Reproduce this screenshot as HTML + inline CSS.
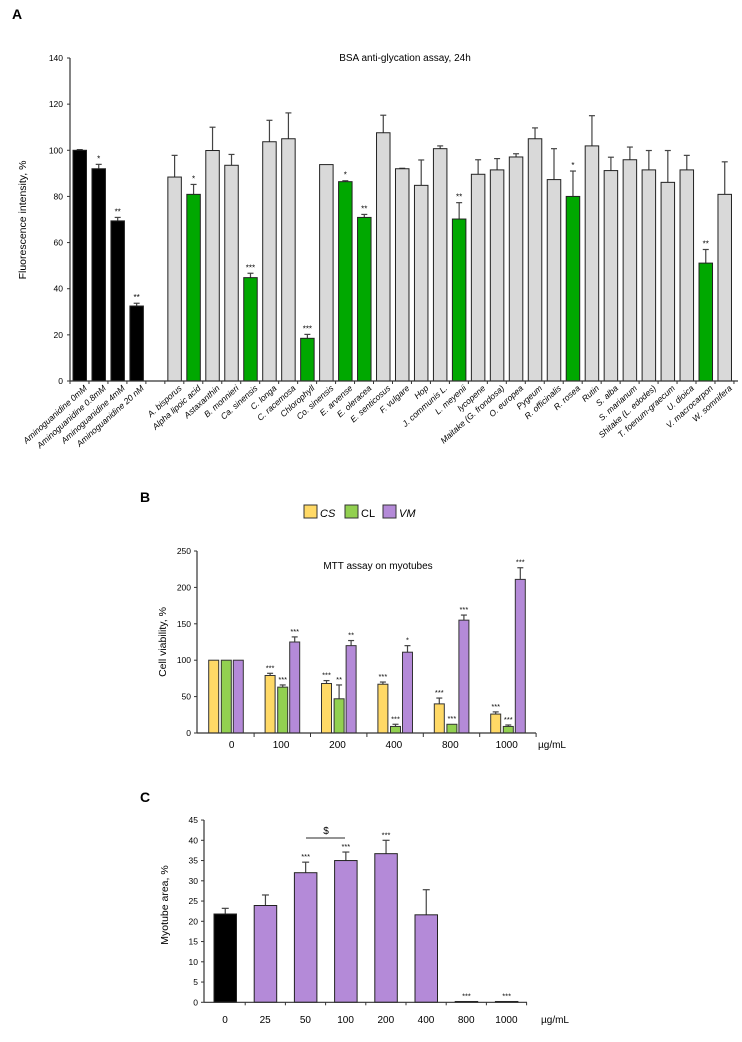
<!DOCTYPE html>
<html><head><meta charset="utf-8"><style>
body{margin:0;background:#fff;font-family:"Liberation Sans",sans-serif}
svg text{font-family:"Liberation Sans",sans-serif}
</style></head><body>
<svg id="s" width="742" height="1037" viewBox="0 0 742 1037" xmlns="http://www.w3.org/2000/svg">
<text x="12" y="19" font-size="14" font-weight="bold">A</text>
<text x="405" y="61" font-size="10" text-anchor="middle">BSA anti-glycation assay, 24h</text>
<text transform="translate(26,220) rotate(-90)" font-size="10.5" text-anchor="middle">Fluorescence intensity, %</text>
<text x="140" y="502" font-size="14" font-weight="bold">B</text>
<text x="378" y="569" font-size="10" text-anchor="middle">MTT assay on myotubes</text>
<text transform="translate(166,642) rotate(-90)" font-size="10.5" text-anchor="middle">Cell viability, %</text>
<text x="140" y="802" font-size="14" font-weight="bold">C</text>
<text transform="translate(168,905) rotate(-90)" font-size="10.5" text-anchor="middle">Myotube area, %</text>
<g>
<rect x="304" y="505" width="13" height="13" fill="#ffd966" stroke="#333"/>
<text x="320" y="517" font-size="11" font-style="italic">CS</text>
<rect x="345" y="505" width="13" height="13" fill="#92d050" stroke="#333"/>
<text x="361" y="517" font-size="11">CL</text>
<rect x="383" y="505" width="13" height="13" fill="#b48ad8" stroke="#333"/>
<text x="399" y="517" font-size="11" font-style="italic">VM</text>
</g>
</svg>
<script>
// Panel A data
const aCats=["Aminoguanidine 0mM","Aminoguanidine 0.8mM","Aminoguanidine 4mM","Aminoguanidine 20 nM","","A. bisporus","Alpha lipoic acid","Astaxanthin","B. monnieri","Ca. sinensis","C. longa","C. racemosa","Chlorophyll","Co. sinensis","E. arvense","E. oleracea","E. senticosus","F. vulgare","Hop","J. communis L.","L. meyenii","lycopene","Maitake (G. frondosa)","O. europea","Pygeum","R. officinalis","R. rosea","Rutin","S. alba","S. marianum","Shitake (L. edodes)","T. foenum-graecum","U. dioica","V. macrocarpon","W. somnifera"];
const aVals=[100,92,69.4,32.5,null,88.4,80.9,99.9,93.5,44.8,103.7,105,18.5,93.8,86.4,70.9,107.6,92,84.8,100.7,70.2,89.6,91.5,97.1,105,87.3,80,101.9,91.2,95.9,91.5,86.1,91.5,51.1,80.9];
const aErrs=[0.3,1.9,1.5,1.2,0,9.4,4.3,10.1,4.7,1.9,9.3,11.2,1.7,0,0.4,1.3,7.6,0.2,11,1.2,7.1,6.3,4.9,1.4,4.7,13.4,11,13.1,5.8,5.5,8.4,13.8,6.3,5.9,14.1];
const aType=["k","k","k","k","","g","G","g","g","G","g","g","G","g","G","G","g","g","g","g","G","g","g","g","g","g","G","g","g","g","g","g","g","G","g"];
const aSig=["","*","**","**","","","*","","","***","","","***","","*","**","","","","","**","","","","","","*","","","","","","","**",""];
const aTicks=[0,20,40,60,80,100,120,140];
// Panel B data
const bGroups=["0","100","200","400","800","1000"];
const bCS=[100,79,68,67,40,26];
const bCSerr=[0.5,3,4,3,8,3];
const bCL=[100,63,47,9,12,9];
const bCLerr=[0.5,3,19,3,0.5,2];
const bVM=[100,125,120,111,155,211];
const bVMerr=[0.5,7,7,9,7,16];
const bCSsig=["","***","***","***","***","***"];
const bCLsig=["","***","**","***","***","***"];
const bVMsig=["","***","**","*","***","***"];
const bTicks=[0,50,100,150,200,250];
// Panel C data
const cCats=["0","25","50","100","200","400","800","1000"];
const cVals=[21.8,23.9,32,35,36.7,21.6,0.2,0.2];
const cErrs=[1.4,2.6,2.6,2.1,3.3,6.2,0,0];
const cSig=["","","***","***","***","","***","***"];
const cTicks=[0,5,10,15,20,25,30,35,40,45];

const svg=document.getElementById('s');
const NS="http://www.w3.org/2000/svg";
function mk(tag,attrs,parent){const e=document.createElementNS(NS,tag);for(const k in attrs)e.setAttribute(k,attrs[k]);(parent||svg).appendChild(e);return e;}
function txt(x,y,s,size,anchor,parent,extra){const e=mk('text',Object.assign({x:x,y:y,'font-size':size,'text-anchor':anchor||'middle'},extra||{}),parent);e.textContent=s;return e;}

// ---------- Panel A ----------
const aY=v=>381-v*(323/140);
const aX=i=>73+i*18.97;
const gA=mk('g',{});


const colA={k:"#000",g:"#d9d9d9",G:"#00a800"};
aVals.forEach((v,i)=>{
  if(v===null)return;
  const x=aX(i),w=13.5;
  const e=aErrs[i];
  if(e>0){
    const l=mk('line',{x1:x+w/2,x2:x+w/2,y1:aY(v),y2:aY(v+e),stroke:'#444','stroke-width':1.2},gA);
    
    
    mk('line',{x1:x+w/2-3,x2:x+w/2+3,y1:aY(v+e),y2:aY(v+e),stroke:'#444','stroke-width':1.2},gA);
  }
  const r=mk('rect',{x:x,y:aY(v),width:w,height:aY(0)-aY(v),fill:colA[aType[i]],stroke:'#222','stroke-width':1},gA);
  
  
  if(aSig[i]){const t=txt(x+w/2,aY(v+e)-3,aSig[i],8,'middle',gA);
    
    }
  const lb=txt(0,0,aCats[i],8.5,'end',gA,{'font-style':'italic',transform:'translate('+(x+w+1)+',389) rotate(-42)'});
  
  
});
mk('line',{x1:70,x2:70,y1:aY(140),y2:aY(0),stroke:'#333','stroke-width':1.2},gA);
mk('line',{x1:70,x2:738,y1:aY(0),y2:aY(0),stroke:'#333','stroke-width':1.2},gA);
aTicks.forEach(t=>{mk('line',{x1:67,x2:70,y1:aY(t),y2:aY(t),stroke:'#333'},gA);
  const tl=txt(63,aY(t)+3,String(t),8.5,'end',gA);
  
  });
for(let i=0;i<=aVals.length;i++){const x=aX(i)-3;mk('line',{x1:x,x2:x,y1:aY(0),y2:aY(0)+3,stroke:'#333'},gA);}

// ---------- Panel B ----------
const bY=v=>733-v*0.728;
const bG=i=>197.7+i*56.4;
const gB=mk('g',{});


const series=[[bCS,bCSerr,bCSsig,'#ffd966',11],[bCL,bCLerr,bCLsig,'#92d050',23.6],[bVM,bVMerr,bVMsig,'#b48ad8',35.6]];
series.forEach((s,si)=>{
  s[0].forEach((v,i)=>{
    const x=bG(i)+s[4],w=10,e=s[1][i];
    if(e>0.6){mk('line',{x1:x+w/2,x2:x+w/2,y1:bY(v),y2:bY(v+e),stroke:'#444','stroke-width':1.2},gB);
      mk('line',{x1:x+w/2-3,x2:x+w/2+3,y1:bY(v+e),y2:bY(v+e),stroke:'#444','stroke-width':1.2},gB);}
    const r=mk('rect',{x:x,y:bY(v),width:w,height:bY(0)-bY(v),fill:s[3],stroke:'#333','stroke-width':1},gB);
    
    
    if(s[2][i]){const t=txt(x+w/2,bY(v+e)-3,s[2][i],7.5,'middle',gB);
      
      }
  });
});
mk('line',{x1:197,x2:197,y1:bY(250),y2:bY(0),stroke:'#333','stroke-width':1.2},gB);
mk('line',{x1:197,x2:536,y1:bY(0),y2:bY(0),stroke:'#333','stroke-width':1.2},gB);
bTicks.forEach(t=>{mk('line',{x1:194,x2:197,y1:bY(t),y2:bY(t),stroke:'#333'},gB);
  const tl=txt(191,bY(t)+3,String(t),8.5,'end',gB);
  
  });
bGroups.forEach((g,i)=>{mk('line',{x1:bG(i+1),x2:bG(i+1),y1:bY(0),y2:bY(0)+4,stroke:'#333'},gB);
  const tl=txt(bG(i)+(i==0?34:27),748,g,10,'middle',gB);
  
  });
txt(538,748,'µg/mL',10,'start',gB);

// ---------- Panel C ----------
const cY=v=>1002.3-v*4.05;
const cX=i=>205+i*40.2;
const gC=mk('g',{});


cVals.forEach((v,i)=>{
  const x=cX(i)+9,w=22.5,e=cErrs[i];
  if(e>0){mk('line',{x1:x+w/2,x2:x+w/2,y1:cY(v),y2:cY(v+e),stroke:'#444','stroke-width':1.2},gC);
    mk('line',{x1:x+w/2-3.5,x2:x+w/2+3.5,y1:cY(v+e),y2:cY(v+e),stroke:'#444','stroke-width':1.2},gC);}
  const r=mk('rect',{x:x,y:cY(v),width:w,height:Math.max(cY(0)-cY(v),0.8),fill:i==0?'#000':'#b48ad8',stroke:'#222','stroke-width':1},gC);
  
  
  if(cSig[i]){const t=txt(x+w/2,cY(v+e)-3,cSig[i],7.5,'middle',gC);
    
    }
  const tl=txt(cX(i)+20,1023,cCats[i],10,'middle',gC);
  
  
  mk('line',{x1:cX(i+1),x2:cX(i+1),y1:cY(0),y2:cY(0)+3,stroke:'#333'},gC);
});
txt(541,1023,'µg/mL',10,'start',gC);
mk('line',{x1:204,x2:204,y1:cY(45),y2:cY(0),stroke:'#333','stroke-width':1.2},gC);
mk('line',{x1:204,x2:527,y1:cY(0),y2:cY(0),stroke:'#333','stroke-width':1.2},gC);
cTicks.forEach(t=>{mk('line',{x1:201,x2:204,y1:cY(t),y2:cY(t),stroke:'#333'},gC);
  const tl=txt(198,cY(t)+3,String(t),8.5,'end',gC);
  
  });
const br=mk('line',{x1:306,x2:345,y1:838,y2:838,stroke:'#555','stroke-width':1.2},gC);


txt(326,834,'$',10,'middle',gC);
</script>
</body></html>
